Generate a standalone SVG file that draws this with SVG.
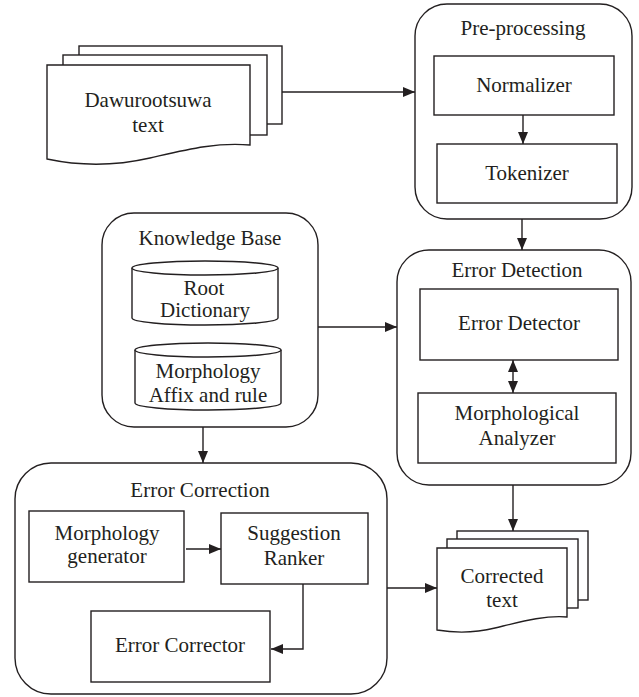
<svg xmlns="http://www.w3.org/2000/svg" width="639" height="697" viewBox="0 0 639 697" font-family="'Liberation Serif', 'DejaVu Serif', serif">
<style>
.s{fill:#fff;stroke:#231f20;stroke-width:1.4}
.l{fill:none;stroke:#231f20;stroke-width:1.4}
text{font-size:21px;fill:#231f20;text-anchor:middle}
</style>
<defs>
<marker id="ah" viewBox="0 0 12 10" refX="12" refY="5" markerWidth="12" markerHeight="10" markerUnits="userSpaceOnUse" orient="auto-start-reverse">
<path d="M0,0 L12,5 L0,10 Z" fill="#231f20"/>
</marker>
</defs>
<rect width="639" height="697" fill="#fff"/>

<g id="dawurootsuwa">
<rect class="s" x="79" y="46" width="203" height="78"/>
<rect class="s" x="63" y="55" width="204" height="80"/>
<path class="s" d="M47,65 H250 V145 C215,142 185,150 150,158 C115,166 80,166 47,159 Z"/>
<text x="148" y="107">Dawurootsuwa</text>
<text x="148" y="132">text</text>
</g>

<g id="preprocessing">
<rect class="s" x="415" y="4" width="217" height="215" rx="32"/>
<text x="523" y="35">Pre-processing</text>
</g>
<g id="normalizer">
<rect class="s" x="434" y="56" width="180" height="59"/>
<text x="524" y="92">Normalizer</text>
</g>
<g id="tokenizer">
<rect class="s" x="437" y="144" width="180" height="59"/>
<text x="527" y="180">Tokenizer</text>
</g>

<g id="knowledgebase">
<rect class="s" x="102" y="213" width="216" height="214" rx="32"/>
<text x="210" y="245">Knowledge Base</text>
</g>
<g id="rootdictionary">
<path class="s" d="M132,268 V318 A73,7 0 0 0 278,318 V268"/>
<ellipse class="s" cx="205" cy="268" rx="73" ry="7"/>
<text x="204" y="295">Root</text>
<text x="205" y="317">Dictionary</text>
</g>
<g id="morphologyaffix">
<path class="s" d="M135,350 V403 A73,7 0 0 0 281,403 V350"/>
<ellipse class="s" cx="208" cy="350" rx="73" ry="7"/>
<text x="208" y="378">Morphology</text>
<text x="208" y="402">Affix and rule</text>
</g>

<g id="errordetection">
<rect class="s" x="397" y="250" width="234" height="235" rx="32"/>
<text x="517" y="277">Error Detection</text>
</g>
<g id="errordetector">
<rect class="s" x="420" y="289" width="198" height="71"/>
<text x="519" y="330">Error Detector</text>
</g>
<g id="morphanalyzer">
<rect class="s" x="418" y="393" width="198" height="70"/>
<text x="517" y="420">Morphological</text>
<text x="517" y="445">Analyzer</text>
</g>

<g id="errorcorrection">
<rect class="s" x="15" y="463" width="372" height="231" rx="36"/>
<text x="200" y="497">Error Correction</text>
</g>
<g id="morphgenerator">
<rect class="s" x="29" y="511" width="155" height="71"/>
<text x="107" y="540">Morphology</text>
<text x="107" y="563">generator</text>
</g>
<g id="suggestionranker">
<rect class="s" x="221" y="513" width="147" height="71"/>
<text x="294" y="540">Suggestion</text>
<text x="294" y="565">Ranker</text>
</g>
<g id="errorcorrector">
<rect class="s" x="91" y="611" width="179" height="71"/>
<text x="180" y="652">Error Corrector</text>
</g>

<g id="correctedtext">
<rect class="s" x="457" y="531" width="131" height="69"/>
<rect class="s" x="447" y="539" width="131" height="69"/>
<path class="s" d="M437,548 H567 V617 C545,615 520,622 495,628 C475,633 455,633 437,630 Z"/>
<text x="502" y="583">Corrected</text>
<text x="502" y="607">text</text>
</g>

<g id="connectors">
<line class="l" x1="282" y1="92" x2="415" y2="92" marker-end="url(#ah)"/>
<line class="l" x1="523" y1="115" x2="523" y2="144" marker-end="url(#ah)"/>
<line class="l" x1="522" y1="219" x2="522" y2="250" marker-end="url(#ah)"/>
<line class="l" x1="318" y1="327" x2="397" y2="327" marker-end="url(#ah)"/>
<line class="l" x1="513" y1="360" x2="513" y2="393" marker-start="url(#ah)" marker-end="url(#ah)"/>
<line class="l" x1="203" y1="427" x2="203" y2="463" marker-end="url(#ah)"/>
<line class="l" x1="513" y1="485" x2="513" y2="531" marker-end="url(#ah)"/>
<line class="l" x1="387" y1="588" x2="437" y2="588" marker-end="url(#ah)"/>
<line class="l" x1="186" y1="549" x2="221" y2="549" marker-end="url(#ah)"/>
<polyline class="l" points="303,584 303,649 271,649" marker-end="url(#ah)"/>
</g>
</svg>
